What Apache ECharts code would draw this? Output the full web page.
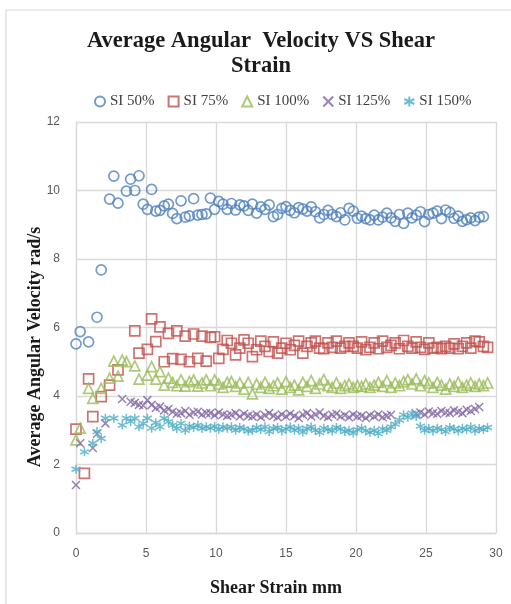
<!DOCTYPE html>
<html>
<head>
<meta charset="utf-8">
<script src="https://cdn.jsdelivr.net/npm/echarts@6/dist/echarts.min.js"></script>
<style>
  html, body { margin: 0; padding: 0; background: #ffffff; }
  #chart { width: 511px; height: 604px; }
</style>
</head>
<body>
<div id="chart"></div>
<script>
// Shear strain (mm) sampled for every run
const strain = [
  0,0.3,0.6,0.9,1.2,1.5,1.8,2.1,2.4,2.7,
  3,3.3,3.6,3.9,4.2,4.5,4.8,5.1,5.4,5.7,
  6,6.3,6.6,6.9,7.2,7.5,7.8,8.1,8.4,8.7,
  9,9.3,9.6,9.9,10.2,10.5,10.8,11.1,11.4,11.7,
  12,12.3,12.6,12.9,13.2,13.5,13.8,14.1,14.4,14.7,
  15,15.3,15.6,15.9,16.2,16.5,16.8,17.1,17.4,17.7,
  18,18.3,18.6,18.9,19.2,19.5,19.8,20.1,20.4,20.7,
  21,21.3,21.6,21.9,22.2,22.5,22.8,23.1,23.4,23.7,
  24,24.3,24.6,24.9,25.2,25.5,25.8,26.1,26.4,26.7,
  27,27.3,27.6,27.9,28.2,28.5,28.8,29.1,29.4
];

// Average angular velocity (rad/s); null = no reading at that strain
const si50 = [
  5.52,5.88,null,5.58,null,6.30,7.68,null,9.75,10.42,
  9.63,null,9.98,10.33,10.00,10.43,9.60,9.45,10.03,9.40,
  9.42,9.55,9.60,9.33,9.18,9.70,9.22,9.26,9.76,9.28,
  9.30,9.32,9.78,9.45,9.68,9.60,9.45,9.62,9.43,9.58,
  9.55,9.42,9.60,9.34,9.52,9.45,9.58,9.24,9.30,9.48,
  9.53,9.42,9.35,9.50,9.46,9.40,9.52,9.38,9.20,9.30,
  9.42,9.30,9.24,9.35,9.14,9.48,9.40,9.19,9.25,9.18,
  9.14,9.28,9.14,9.22,9.34,9.20,9.10,9.30,9.04,9.34,
  9.20,9.28,9.38,9.09,9.30,9.34,9.40,9.18,9.43,9.36,
  9.19,9.25,9.10,9.15,9.20,9.12,9.22,9.24,null
];
const si75 = [
  3.03,null,1.74,4.50,3.40,null,3.98,null,4.32,null,
  4.76,null,null,null,5.90,5.25,null,5.36,6.25,5.59,
  6.02,5.00,5.83,5.09,5.90,5.07,5.75,5.00,5.81,5.10,
  5.75,5.02,5.71,5.73,5.10,5.36,5.62,5.54,5.20,5.40,
  5.64,5.54,5.15,5.35,5.60,5.45,5.30,5.58,5.25,5.40,
  5.54,5.35,5.48,5.60,5.25,5.45,5.55,5.60,5.40,5.38,
  5.55,5.42,5.60,5.40,5.45,5.55,5.45,5.40,5.58,5.35,
  5.42,5.55,5.38,5.60,5.42,5.48,5.55,5.38,5.62,5.45,
  5.40,5.58,5.42,5.36,5.55,5.40,5.42,5.38,5.45,5.40,
  5.52,5.38,5.45,5.55,5.40,5.60,5.58,5.45,5.42
];
const si100 = [
  2.72,3.06,null,4.22,3.93,null,4.22,null,4.52,5.02,
  4.58,5.05,5.00,null,4.88,4.49,null,4.61,4.86,4.49,
  4.71,4.32,4.52,4.40,4.30,4.47,4.29,4.42,4.47,4.29,
  4.38,4.47,4.30,4.47,4.35,4.25,4.40,4.42,4.28,4.38,
  4.20,4.40,4.06,4.35,4.25,4.40,4.22,4.30,4.38,4.20,
  4.42,4.25,4.32,4.18,4.40,4.28,4.45,4.22,4.35,4.48,
  4.30,4.25,4.38,4.22,4.30,4.35,4.25,4.30,4.28,4.35,
  4.25,4.32,4.40,4.28,4.45,4.25,4.38,4.30,4.42,4.48,
  4.35,4.50,4.30,4.45,4.38,4.25,4.40,4.32,4.20,4.35,
  4.28,4.40,4.25,4.32,4.38,4.28,4.35,4.30,4.38
];
const si125 = [
  1.40,2.62,null,null,2.48,2.90,null,3.20,null,null,
  null,3.91,null,3.83,3.80,3.74,3.72,3.88,3.74,3.65,
  3.69,3.58,3.62,3.54,3.48,3.50,3.56,3.45,3.52,3.54,
  3.46,3.50,3.50,3.44,3.52,3.46,3.42,3.45,3.50,3.40,
  3.48,3.42,3.40,3.46,3.38,3.44,3.50,3.42,3.38,3.46,
  3.40,3.48,3.42,3.36,3.45,3.50,3.40,3.46,3.52,3.42,
  3.38,3.45,3.48,3.40,3.44,3.38,3.46,3.40,3.42,3.36,
  3.44,3.40,3.46,3.38,3.42,3.45,null,null,null,null,
  null,3.48,3.52,3.46,3.55,3.50,3.48,3.56,3.52,3.50,
  3.58,3.54,3.50,3.60,3.56,3.62,3.68,null,null
];
const si150 = [
  1.86,null,2.37,null,2.62,2.96,2.76,3.35,null,3.35,
  null,3.15,3.35,3.25,3.35,3.10,3.20,3.35,3.06,3.22,
  3.10,3.35,3.25,3.15,3.05,3.20,3.00,3.12,3.08,3.15,
  3.05,3.10,3.06,3.12,3.02,3.10,3.06,3.10,3.00,3.08,
  3.04,2.98,3.00,3.08,3.02,3.10,2.96,3.05,3.08,2.98,
  3.04,3.10,3.00,3.06,2.95,3.05,3.10,3.00,2.94,3.06,
  3.02,2.98,3.08,3.04,2.96,3.00,2.92,3.02,3.06,2.98,
  2.94,3.00,2.90,3.04,3.00,3.10,3.18,3.30,3.45,3.38,
  3.50,3.40,3.12,3.00,3.05,2.98,3.06,3.02,2.96,3.08,
  3.04,2.98,3.06,3.02,3.10,2.98,3.05,3.02,3.08
];

const seriesNames = ['SI 50%', 'SI 75%', 'SI 100%', 'SI 125%', 'SI 150%'];
const xTicks = [0, 5, 10, 15, 20, 25, 30];
const yTicks = [0, 2, 4, 6, 8, 10, 12];

const runs = [si50, si75, si100, si125, si150];
const colors = ['#4F81BD', '#C0504D', '#9BBB59', '#8064A2', '#4BACC6'];
const symbols = [
  'circle',
  'rect',
  'triangle',
  'path://M0,0L10,10M10,0L0,10',
  'path://M5,0L5,10M0,2.5L10,7.5M0,7.5L10,2.5'
];
const sizes = [10, 10, 10, 8, 9];
const strokes = [1.7, 1.7, 1.7, 1.5, 1.5];

function pairs(ys) {
  const out = [];
  strain.forEach((x, i) => { if (ys[i] !== null) out.push([x, ys[i]]); });
  return out;
}

const serif = '"Liberation Serif", "Times New Roman", serif';
const sans = '"Liberation Sans", Arial, sans-serif';
const gridColor = '#d9d9d9';

const chart = echarts.init(document.getElementById('chart'));
chart.setOption({
  animation: false,
  backgroundColor: '#ffffff',
  graphic: [
    { type: 'rect', z: -1, shape: { x: 6, y: 10, width: 520, height: 620 },
      style: { fill: 'none', stroke: gridColor, lineWidth: 1.2 } },
    { type: 'text', x: 261, y: 29, style: {
        text: 'Average Angular  Velocity VS Shear\nStrain', align: 'center', verticalAlign: 'top',
        font: 'bold 22.5px ' + serif, lineHeight: 25, fill: '#1a1a1a' } },
    { type: 'text', x: 276, y: 588, style: {
        text: 'Shear Strain mm', align: 'center', verticalAlign: 'middle',
        font: 'bold 18px ' + serif, fill: '#1a1a1a' } },
    { type: 'text', x: 35, y: 347, rotation: Math.PI / 2, style: {
        text: 'Average Angular Velocity rad/s', align: 'center', verticalAlign: 'middle',
        font: 'bold 18px ' + serif, fill: '#1a1a1a' } }
  ],
  legend: {
    left: 89, top: 89,
    itemWidth: 10, itemHeight: 10, itemGap: 13,
    textStyle: { fontFamily: serif, fontSize: 15, color: '#404040' },
    data: seriesNames
  },
  grid: { left: 76, right: 15, top: 122, bottom: 71 },
  xAxis: {
    type: 'value', min: xTicks[0], max: xTicks[xTicks.length - 1], interval: 5,
    axisLine: { show: true, onZero: false, lineStyle: { color: gridColor, width: 1.3 } },
    axisTick: { show: false },
    splitLine: { show: true, lineStyle: { color: gridColor, width: 1.3 } },
    axisLabel: { margin: 15, color: '#595959', fontFamily: sans, fontSize: 12 }
  },
  yAxis: {
    type: 'value', min: yTicks[0], max: yTicks[yTicks.length - 1], interval: 2,
    axisLine: { show: true, lineStyle: { color: gridColor, width: 1.3 } },
    axisTick: { show: false },
    splitLine: { show: true, lineStyle: { color: gridColor, width: 1.3 } },
    axisLabel: { margin: 16, color: '#595959', fontFamily: sans, fontSize: 12 }
  },
  series: runs.map((ys, k) => ({
    name: seriesNames[k],
    type: 'scatter',
    symbol: symbols[k],
    symbolSize: sizes[k],
    itemStyle: { color: 'transparent', borderColor: colors[k], borderWidth: strokes[k] },
    emphasis: { disabled: true },
    data: pairs(ys)
  }))
});
</script>
</body>
</html>
